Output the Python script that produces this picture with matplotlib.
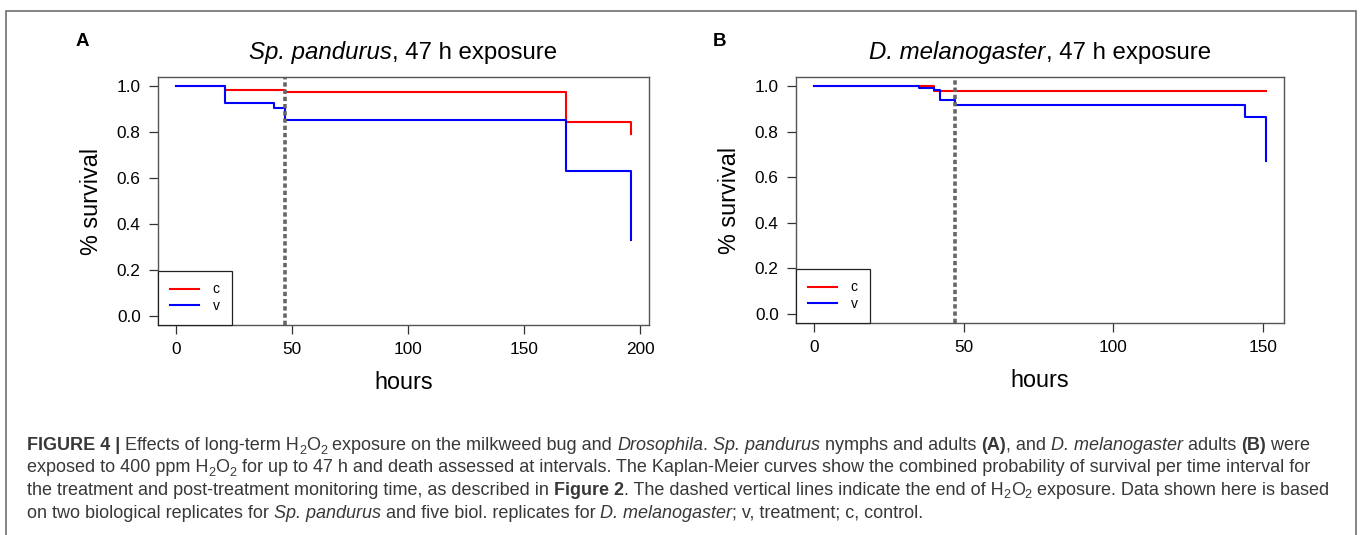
import matplotlib
matplotlib.use("Agg")
import matplotlib.pyplot as plt
from matplotlib.patches import Rectangle

plt.rcParams['font.family'] = ['Liberation Sans', 'DejaVu Sans']

# Kaplan-Meier step data (time in hours, survival fraction)
a_c_time = [0, 21, 47, 168, 196]
a_c_surv = [1.0, 0.985, 0.973, 0.843, 0.79]
a_v_time = [0, 21, 42, 47, 168, 196]
a_v_surv = [1.0, 0.925, 0.906, 0.852, 0.63, 0.33]

b_c_time = [0, 40, 151]
b_c_surv = [1.0, 0.98, 0.98]
b_v_time = [0, 35, 40, 42, 47, 144, 151]
b_v_surv = [1.0, 0.992, 0.985, 0.941, 0.916, 0.866, 0.672]

exposure_end = 47
a_xticks = [0, 50, 100, 150, 200]
b_xticks = [0, 50, 100, 150]
yticks = [0.0, 0.2, 0.4, 0.6, 0.8, 1.0]

W, H = 1360, 535
fig = plt.figure(figsize=(W / 100, H / 100), dpi=100)

# outer frame of the figure panel
fig.patches.append(Rectangle((6 / W, -0.1), 1350 / W, 1.1 - 11 / H, transform=fig.transFigure,
                             fill=False, edgecolor='#707070', lw=1.2))

fig.canvas.draw()
renderer = fig.canvas.get_renderer()


def run_width(s, **kw):
    # width of a text run in pixels, trailing spaces included
    t1 = fig.text(0, 0, s + '|', **kw)
    t2 = fig.text(0, 0, '|', **kw)
    w = t1.get_window_extent(renderer).width - t2.get_window_extent(renderer).width
    t1.remove()
    t2.remove()
    return w


def panel(rect, ct, cs, vt, vs, xticks, title_it, letter, letter_x):
    ax = fig.add_axes(rect)
    ax.step(ct, cs, where='post', color='#ff0000', lw=1.5, label='c')
    ax.step(vt, vs, where='post', color='#0000ff', lw=1.5, label='v')
    ax.axvline(exposure_end, color='#666666', lw=2.6, ls=(0, (1.2, 0.8)))
    xmax = max(ct[-1], vt[-1])
    ax.set_xlim(-0.04 * xmax, 1.04 * xmax)
    ax.set_ylim(-0.04, 1.04)
    ax.set_xticks(xticks)
    ax.set_yticks(yticks)
    ax.set_yticklabels(['%.1f' % v for v in yticks])
    ax.tick_params(labelsize=12.4, length=6.5, width=0.9, color='#333333', pad=6)
    for s in ax.spines.values():
        s.set_color('#555555')
        s.set_linewidth(1.0)
    ax.set_xlabel('hours', fontsize=16.8, labelpad=10)
    ax.set_ylabel('% survival', fontsize=16.8, labelpad=10)
    leg = ax.legend(loc='lower left', bbox_to_anchor=(0, 0), borderaxespad=0, fancybox=False,
                    edgecolor='#222222', framealpha=1, fontsize=10, handlelength=2.1,
                    handletextpad=1.0, borderpad=0.85, labelspacing=0.2)
    leg.get_frame().set_linewidth(0.9)
    fig.text(letter_x / W, 1 - 42 / H, letter, fontsize=13.5, fontweight='bold', va='center')

    # title: italic species name followed by plain text, centred over the axes
    tsize = 17.3
    rest = ', 47 h exposure'
    w1 = run_width(title_it, fontsize=tsize, fontstyle='italic')
    w2 = run_width(rest, fontsize=tsize)
    cx = (rect[0] + rect[2] / 2) * W
    x0 = cx - (w1 + w2) / 2
    fig.text(x0 / W, 1 - 59 / H, title_it, fontsize=tsize, fontstyle='italic', va='baseline')
    fig.text((x0 + w1) / W, 1 - 59 / H, rest, fontsize=tsize, va='baseline')
    return ax


panel([158 / W, 1 - 325 / H, 491 / W, 248 / H], a_c_time, a_c_surv, a_v_time, a_v_surv,
      a_xticks, 'Sp. pandurus', 'A', 76)
panel([796 / W, 1 - 323 / H, 488 / W, 246 / H], b_c_time, b_c_surv, b_v_time, b_v_surv,
      b_xticks, 'D. melanogaster', 'B', 713)

# caption, drawn run by run
cap_color = '#383838'
cap_size = 13.0
N, B, I, S = 'normal', 'bold', 'italic', 'sub'
caption = [
    [(B, 'FIGURE 4 | '), (N, 'Effects of long-term H'), (S, '2'), (N, 'O'), (S, '2'),
     (N, ' exposure on the milkweed bug and '), (I, 'Drosophila'), (N, '. '), (I, 'Sp. pandurus'),
     (N, ' nymphs and adults '), (B, '(A)'), (N, ', and '), (I, 'D. melanogaster'),
     (N, ' adults '), (B, '(B)'), (N, ' were')],
    [(N, 'exposed to 400 ppm H'), (S, '2'), (N, 'O'), (S, '2'),
     (N, ' for up to 47 h and death assessed at intervals. The Kaplan-Meier curves show the '
         'combined probability of survival per time interval for')],
    [(N, 'the treatment and post-treatment monitoring time, as described in '), (B, 'Figure 2'),
     (N, '. The dashed vertical lines indicate the end of H'), (S, '2'), (N, 'O'), (S, '2'),
     (N, ' exposure. Data shown here is based')],
    [(N, 'on two biological replicates for '), (I, 'Sp. pandurus'),
     (N, ' and five biol. replicates for '), (I, 'D. melanogaster'), (N, '; v, treatment; c, control.')],
]
baselines = [450, 472.5, 495, 517.5]

for line, yb in zip(caption, baselines):
    x = 27
    for style, s in line:
        kw = dict(fontsize=cap_size, color=cap_color, va='baseline')
        y = yb
        if style == B:
            kw['fontweight'] = 'bold'
        elif style == I:
            kw['fontstyle'] = 'italic'
        elif style == S:
            kw['fontsize'] = cap_size * 0.7
            y = yb + 3.5
        fig.text(x / W, 1 - y / H, s, **kw)
        x += run_width(s, **kw)

fig.savefig('out.png', dpi=100)
